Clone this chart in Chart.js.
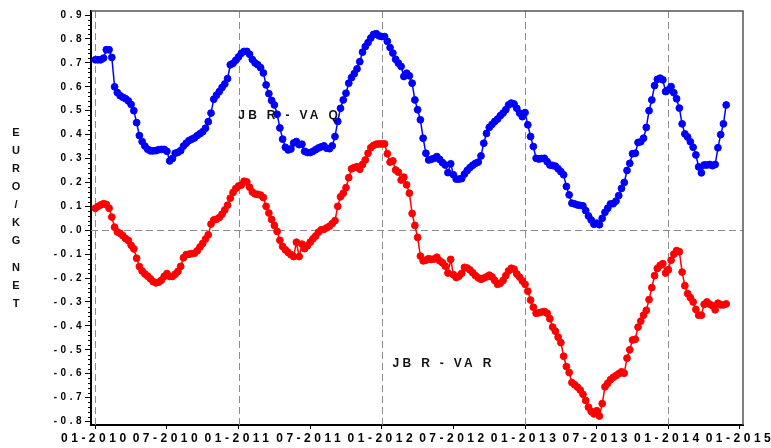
<!DOCTYPE html>
<html>
<head>
<meta charset="utf-8">
<title>EURO/KG NET</title>
<script src="https://cdn.jsdelivr.net/npm/chart.js@4.4.1/dist/chart.umd.min.js"></script>
<style>
    html, body { margin: 0; padding: 0; background: #fff; }
    #chart { display: block; }
</style>
</head>
<body>
<canvas id="chart" width="771" height="448"></canvas>
<script>
// Axis ticks: one label every 26 weekly observations
const tickWeeks = [0, 26, 52, 78, 104, 130, 156, 182, 208, 234];
const tickLabels = ['01-2010', '07-2010', '01-2011', '07-2011', '01-2012', '07-2012', '01-2013', '07-2013', '01-2014', '01-2015'];
const yTicks = [-0.8, -0.7, -0.6, -0.5, -0.4, -0.3, -0.2, -0.1, 0.0, 0.1, 0.2, 0.3, 0.4, 0.5, 0.6, 0.7, 0.8, 0.9];
const refWeeks = [0, 52, 104, 156, 208];

// JB R - VA Q (weekly, EURO/KG NET)
const blueValues = [
    0.713, 0.713, 0.713, 0.720, 0.755, 0.755, 0.723, 0.600, 0.576, 0.563,
    0.556, 0.550, 0.541, 0.526, 0.500, 0.450, 0.396, 0.371, 0.352, 0.339,
    0.332, 0.332, 0.333, 0.337, 0.338, 0.338, 0.330, 0.290, 0.300, 0.322,
    0.326, 0.333, 0.352, 0.364, 0.375, 0.381, 0.386, 0.396, 0.404, 0.412,
    0.427, 0.454, 0.490, 0.548, 0.565, 0.580, 0.597, 0.612, 0.634, 0.692,
    0.698, 0.711, 0.725, 0.740, 0.748, 0.748, 0.736, 0.714, 0.700, 0.692,
    0.680, 0.658, 0.608, 0.571, 0.543, 0.524, 0.485, 0.428, 0.381, 0.347,
    0.336, 0.340, 0.365, 0.371, 0.358, 0.360, 0.330, 0.325, 0.325, 0.330,
    0.337, 0.344, 0.349, 0.353, 0.343, 0.341, 0.353, 0.392, 0.455, 0.510,
    0.545, 0.573, 0.615, 0.638, 0.655, 0.675, 0.705, 0.745, 0.768, 0.785,
    0.804, 0.819, 0.822, 0.813, 0.810, 0.810, 0.790, 0.764, 0.741, 0.715,
    0.699, 0.685, 0.643, 0.657, 0.646, 0.615, 0.545, 0.504, 0.462, 0.385,
    0.322, 0.294, 0.297, 0.301, 0.308, 0.296, 0.283, 0.273, 0.241, 0.278,
    0.232, 0.214, 0.214, 0.216, 0.235, 0.250, 0.262, 0.272, 0.280, 0.285,
    0.311, 0.364, 0.405, 0.430, 0.443, 0.455, 0.465, 0.479, 0.490, 0.504,
    0.524, 0.532, 0.528, 0.510, 0.490, 0.475, 0.492, 0.441, 0.392, 0.350,
    0.301, 0.298, 0.300, 0.301, 0.287, 0.273, 0.271, 0.268, 0.257, 0.245,
    0.232, 0.183, 0.148, 0.113, 0.110, 0.106, 0.104, 0.102, 0.082, 0.060,
    0.043, 0.025, 0.030, 0.023, 0.050, 0.075, 0.092, 0.110, 0.111, 0.122,
    0.145, 0.175, 0.200, 0.250, 0.280, 0.320, 0.322, 0.367, 0.370, 0.385,
    0.430, 0.500, 0.545, 0.605, 0.631, 0.636, 0.629, 0.580, 0.587, 0.601,
    0.575, 0.550, 0.511, 0.445, 0.403, 0.390, 0.370, 0.347, 0.315, 0.265,
    0.240, 0.273, 0.273, 0.275, 0.270, 0.275, 0.345, 0.400, 0.445, 0.524
];

// JB R - VA R (weekly, EURO/KG NET)
const redValues = [
    0.092, 0.100, 0.106, 0.111, 0.108, 0.092, 0.055, 0.013, -0.007, -0.013,
    -0.023, -0.035, -0.043, -0.063, -0.078, -0.117, -0.152, -0.170, -0.183, -0.192,
    -0.203, -0.215, -0.220, -0.217, -0.209, -0.193, -0.181, -0.193, -0.193, -0.184,
    -0.172, -0.151, -0.115, -0.102, -0.100, -0.098, -0.096, -0.086, -0.070, -0.055,
    -0.037, -0.019, 0.026, 0.043, 0.046, 0.053, 0.067, 0.085, 0.105, 0.134,
    0.158, 0.175, 0.185, 0.189, 0.205, 0.202, 0.180, 0.160, 0.152, 0.150,
    0.147, 0.137, 0.100, 0.072, 0.045, 0.020, -0.005, -0.042, -0.068, -0.082,
    -0.093, -0.102, -0.110, -0.050, -0.110, -0.058, -0.077, -0.065, -0.050, -0.036,
    -0.024, -0.008, 0.002, 0.004, 0.010, 0.017, 0.028, 0.040, 0.100, 0.140,
    0.155, 0.178, 0.220, 0.257, 0.262, 0.266, 0.255, 0.275, 0.294, 0.322,
    0.345, 0.355, 0.360, 0.361, 0.361, 0.361, 0.320, 0.285, 0.290, 0.252,
    0.243, 0.210, 0.222, 0.190, 0.155, 0.070, 0.020, -0.030, -0.108, -0.128,
    -0.125, -0.119, -0.122, -0.120, -0.113, -0.128, -0.136, -0.150, -0.179, -0.122,
    -0.186, -0.198, -0.192, -0.180, -0.155, -0.158, -0.166, -0.178, -0.190, -0.199,
    -0.205, -0.200, -0.195, -0.188, -0.195, -0.210, -0.226, -0.222, -0.210, -0.190,
    -0.170, -0.159, -0.163, -0.183, -0.196, -0.212, -0.226, -0.255, -0.292, -0.322,
    -0.347, -0.345, -0.342, -0.340, -0.347, -0.370, -0.405, -0.422, -0.447, -0.470,
    -0.527, -0.570, -0.595, -0.637, -0.646, -0.656, -0.668, -0.686, -0.712, -0.740,
    -0.758, -0.768, -0.755, -0.777, -0.725, -0.655, -0.640, -0.625, -0.615, -0.608,
    -0.600, -0.592, -0.598, -0.535, -0.500, -0.459, -0.456, -0.405, -0.380, -0.355,
    -0.335, -0.290, -0.240, -0.190, -0.160, -0.147, -0.140, -0.179, -0.165, -0.125,
    -0.100, -0.085, -0.090, -0.175, -0.232, -0.265, -0.282, -0.300, -0.331, -0.355,
    -0.355, -0.310, -0.300, -0.309, -0.316, -0.333, -0.305, -0.312, -0.312, -0.308
];

// In-plot labels, placed in data coordinates
const notes = [
    { text: 'JB R - VA Q', week: 51.9, value: 0.479 },
    { text: 'JB R - VA R', week: 107.9, value: -0.556 }
];
const yTitle = 'EURO/KG NET';

const fontFamily = "'Liberation Sans', Arial, sans-serif";
const textSpacing = '3.5px';

function toPoints(values) {
    return values.map((v, i) => ({ x: i, y: v }));
}

// Dashed reference lines, frame, minor ticks and free text
const chartDecor = {
    id: 'chartDecor',
    beforeLayout(chart) {
        chart.ctx.letterSpacing = textSpacing;
    },
    beforeDraw(chart) {
        chart.ctx.letterSpacing = textSpacing;
    },
    beforeDatasetsDraw(chart) {
        const { ctx, chartArea: area, scales: { x, y } } = chart;
        ctx.save();
        ctx.strokeStyle = '#8c8c8c';
        ctx.lineWidth = 1;
        ctx.setLineDash([7, 4]);
        ctx.beginPath();
        refWeeks.forEach(w => {
            const px = Math.round(x.getPixelForValue(w)) + 0.5;
            ctx.moveTo(px, area.top);
            ctx.lineTo(px, area.bottom);
        });
        const zy = Math.round(y.getPixelForValue(0)) + 0.5;
        ctx.moveTo(area.left, zy);
        ctx.lineTo(area.right, zy);
        ctx.stroke();
        ctx.restore();
    },
    afterDraw(chart) {
        const { ctx, chartArea: area, scales: { x, y } } = chart;
        ctx.save();

        // top and right frame
        ctx.strokeStyle = '#555';
        ctx.lineWidth = 1.5;
        ctx.beginPath();
        ctx.moveTo(area.left, area.top);
        ctx.lineTo(area.right, area.top);
        ctx.lineTo(area.right, area.bottom);
        ctx.stroke();

        // minor ticks on the value axis
        ctx.strokeStyle = '#000';
        ctx.lineWidth = 1;
        ctx.beginPath();
        for (let i = 0; i < yTicks.length - 1; i++) {
            for (let k = 1; k < 5; k++) {
                const v = yTicks[i] + (yTicks[i + 1] - yTicks[i]) * k / 5;
                const py = Math.round(y.getPixelForValue(v)) + 0.5;
                ctx.moveTo(area.left - 3, py);
                ctx.lineTo(area.left, py);
            }
        }
        ctx.stroke();

        // notes inside the plot
        ctx.fillStyle = '#111';
        ctx.font = 'bold 12px ' + fontFamily;
        ctx.letterSpacing = '3.3px';
        ctx.textAlign = 'left';
        ctx.textBaseline = 'middle';
        notes.forEach(n => {
            ctx.fillText(n.text, x.getPixelForValue(n.week), y.getPixelForValue(n.value));
        });

        // stacked value-axis title
        ctx.font = 'bold 11px ' + fontFamily;
        ctx.letterSpacing = '0px';
        ctx.textAlign = 'center';
        let ty = 133;
        for (const ch of yTitle) {
            if (ch === ' ') {
                ty += 9;
                continue;
            }
            ctx.fillText(ch, 16, ty);
            ty += 18;
        }
        ctx.restore();
    }
};

const lineStyle = (color) => ({
    borderColor: color,
    backgroundColor: color,
    pointBackgroundColor: color,
    pointBorderColor: color,
    borderWidth: 1.5,
    pointRadius: 3.4,
    pointBorderWidth: 1,
    pointHoverRadius: 3.4,
    tension: 0,
    fill: false
});

new Chart(document.getElementById('chart'), {
    type: 'line',
    data: {
        datasets: [
            { label: 'JB R - VA Q', data: toPoints(blueValues), ...lineStyle('#0000ff') },
            { label: 'JB R - VA R', data: toPoints(redValues), ...lineStyle('#ff0000') }
        ]
    },
    options: {
        responsive: false,
        animation: false,
        events: [],
        layout: { padding: { left: 0, right: 28, top: 11, bottom: 0 } },
        plugins: {
            legend: { display: false },
            tooltip: { enabled: false }
        },
        scales: {
            x: {
                type: 'linear',
                bounds: 'data',
                min: -1.56,
                max: 235.1,
                afterBuildTicks: (axis) => { axis.ticks = tickWeeks.map(v => ({ value: v })); },
                afterFit: (axis) => { axis.height = 23; axis.paddingLeft = 0; axis.paddingRight = 0; },
                grid: { drawOnChartArea: false, drawTicks: true, tickLength: 4, tickColor: '#000', tickWidth: 1 },
                border: { display: true, color: '#000', width: 2 },
                ticks: {
                    autoSkip: false,
                    maxRotation: 0,
                    padding: 2,
                    color: '#000',
                    font: { family: fontFamily, size: 12, weight: 'bold' },
                    callback: (v) => tickLabels[tickWeeks.indexOf(v)]
                }
            },
            y: {
                type: 'linear',
                bounds: 'data',
                min: -0.8145,
                max: 0.917,
                afterBuildTicks: (axis) => { axis.ticks = yTicks.map(v => ({ value: v })); },
                afterFit: (axis) => { axis.width = 91; axis.paddingTop = 0; axis.paddingBottom = 0; },
                grid: { drawOnChartArea: false, drawTicks: true, tickLength: 6, tickColor: '#000', tickWidth: 1 },
                border: { display: true, color: '#000', width: 2 },
                ticks: {
                    padding: 0,
                    color: '#000',
                    font: { family: fontFamily, size: 10, weight: 'bold' },
                    callback: (v) => v.toFixed(1)
                }
            }
        }
    },
    plugins: [chartDecor]
});
</script>
</body>
</html>
